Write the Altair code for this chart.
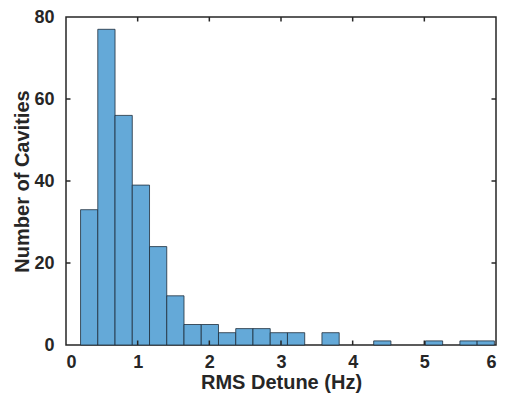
import altair as alt
import pandas as pd

# Histogram counts (24 bins)
counts = [33, 77, 56, 39, 24, 12, 5, 5, 3, 4, 4, 3, 3, 0, 3, 0, 0, 1, 0, 0, 1, 0, 1, 1]
bin_start = 0.203
bin_width = 0.2406
x_ticks = [0, 1, 2, 3, 4, 5, 6]
y_ticks = [0, 20, 40, 60, 80]
x_title = "RMS Detune (Hz)"
y_title = "Number of Cavities"

lo = [bin_start + i * bin_width for i in range(len(counts))]
df = pd.DataFrame({"lo": lo, "hi": [v + bin_width for v in lo], "count": counts})
df = df[df["count"] > 0]

W, H = 430, 328
TL = 4.5
xs = alt.Scale(domain=[0, 6], nice=False, zero=False)
ys = alt.Scale(domain=[0, 80], nice=False)
ink = "#262626"

xaxis = alt.Axis(values=x_ticks, labelPadding=8, titleY=43, titleBaseline="alphabetic", format="d")
yaxis = alt.Axis(values=y_ticks, labelPadding=12, titleX=-38, titleBaseline="alphabetic", format="d")

bars = alt.Chart(df).mark_bar(fill="#64A9D8", stroke="#1e2d3b", strokeWidth=0.8).encode(
    x=alt.X("lo:Q", scale=xs, title=x_title, axis=xaxis),
    x2="hi:Q",
    y=alt.Y("count:Q", scale=ys, title=y_title, axis=yaxis),
    y2=alt.datum(0),
)

xt = pd.DataFrame({"lo": x_ticks[1:-1]})
yt = pd.DataFrame({"count": y_ticks[1:-1]})

bottom = alt.Chart(xt).mark_rule(color=ink, strokeWidth=1.5).encode(
    x=alt.X("lo:Q", scale=xs, title=x_title, axis=xaxis), y=alt.value(H), y2=alt.value(H - TL))
top = alt.Chart(xt).mark_rule(color=ink, strokeWidth=1.5).encode(
    x=alt.X("lo:Q", scale=xs, title=x_title, axis=xaxis), y=alt.value(0), y2=alt.value(TL))
left = alt.Chart(yt).mark_rule(color=ink, strokeWidth=1.5).encode(
    y=alt.Y("count:Q", scale=ys, title=y_title, axis=yaxis), x=alt.value(0), x2=alt.value(TL))
right = alt.Chart(yt).mark_rule(color=ink, strokeWidth=1.5).encode(
    y=alt.Y("count:Q", scale=ys, title=y_title, axis=yaxis), x=alt.value(W), x2=alt.value(W - TL))

chart = alt.layer(bars, bottom, top, left, right).properties(
    width=W, height=H,
    autosize=alt.AutoSizeParams(type="none"),
    padding={"left": 58, "top": 9, "right": 5, "bottom": 52},
).configure_axis(
    domain=False, ticks=False, tickSize=0, grid=False,
    labelFont="Liberation Sans", labelFontWeight="bold", labelFontSize=18, labelColor=ink,
    titleFont="Liberation Sans", titleFontWeight="bold", titleFontSize=20, titleColor=ink,
).configure_view(stroke=ink, strokeWidth=1.5)

chart.save("out.html", embed_options={"renderer": "svg", "actions": False})
